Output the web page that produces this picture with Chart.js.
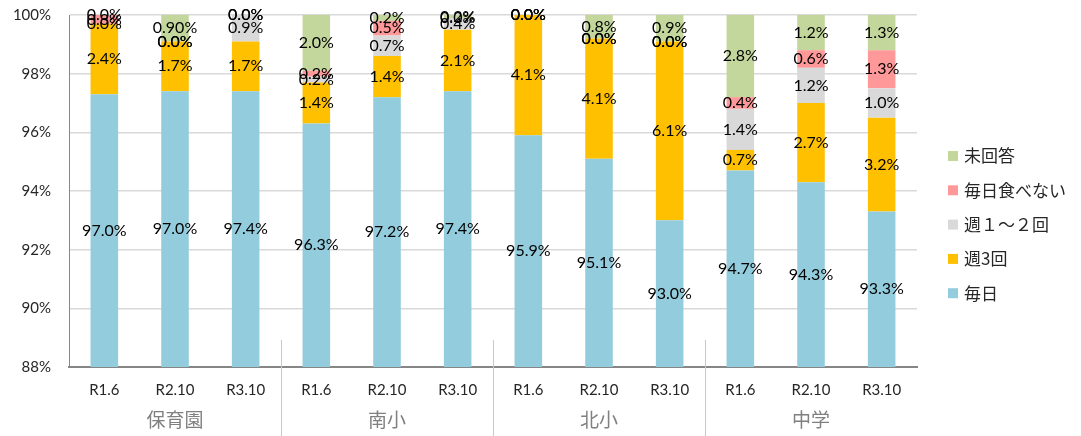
<!DOCTYPE html>
<html>
<head>
<meta charset="utf-8">
<script src="https://cdn.jsdelivr.net/npm/chart.js@4"></script>
<style>
  html, body { margin: 0; padding: 0; background: #fff; }
</style>
</head>
<body>
<canvas id="chart" width="1081" height="436"></canvas>
<script>
// categories and groups
const categories = ["R1.6", "R2.10", "R3.10", "R1.6", "R2.10", "R3.10", "R1.6", "R2.10", "R3.10", "R1.6", "R2.10", "R3.10"];
const groups = ["保育園", "南小", "北小", "中学"];

// series values (%)
const mainichi = [97.3, 97.4, 97.4, 96.3, 97.2, 97.4, 95.9, 95.1, 93.0, 94.7, 94.3, 93.3];
const shu3 = [2.4, 1.7, 1.7, 1.4, 1.4, 2.1, 4.1, 4.1, 6.1, 0.7, 2.7, 3.2];
const shu12 = [0.0, 0.0, 0.9, 0.2, 0.7, 0.4, 0.0, 0.0, 0.0, 1.4, 1.2, 1.0];
const tabenai = [0.3, 0.0, 0.0, 0.2, 0.5, 0.0, 0.0, 0.0, 0.0, 0.4, 0.6, 1.3];
const mikaitou = [0.0, 0.9, 0.0, 2.0, 0.2, 0.2, 0.0, 0.8, 0.9, 2.8, 1.2, 1.3];

// y axis ticks
const yMin = 88;
const yMax = 100;
const yStep = 2;

// labels printed differently from the plotted value in the original
const labelOverrides = { "0-0": "97.0%", "0-1": "97.0%", "4-1": "0.90%" };

const NUM_FONT = "Lato, 'Noto Sans', sans-serif";
const JP_FONT = "'Noto Sans CJK JP', 'Noto Sans', sans-serif";

// draws the value of every segment in the middle of its visible part
const segmentLabels = {
  id: "segmentLabels",
  afterDatasetsDraw(chart) {
    const ctx = chart.ctx;
    const area = chart.chartArea;
    ctx.save();
    ctx.font = "16px " + NUM_FONT;
    ctx.fillStyle = "#000";
    ctx.textAlign = "center";
    ctx.textBaseline = "middle";
    chart.data.datasets.forEach((ds, i) => {
      const meta = chart.getDatasetMeta(i);
      meta.data.forEach((bar, j) => {
        const text = labelOverrides[i + "-" + j] || ds.data[j].toFixed(1) + "%";
        const top = Math.max(Math.min(bar.y, bar.base), area.top);
        const bottom = Math.min(Math.max(bar.y, bar.base), area.bottom);
        ctx.fillText(text, bar.x, (top + bottom) / 2);
      });
    });
    ctx.restore();
  }
};

// group names and separators under the category labels
const groupAxis = {
  id: "groupAxis",
  afterDraw(chart) {
    const ctx = chart.ctx;
    const x = chart.scales.x;
    const area = chart.chartArea;
    const per = categories.length / groups.length;
    ctx.save();
    ctx.strokeStyle = "#c8c8c8";
    ctx.lineWidth = 1;
    for (let g = 1; g < groups.length; g++) {
      const px = Math.round((x.getPixelForValue(g * per - 1) + x.getPixelForValue(g * per)) / 2) + 0.5;
      ctx.beginPath();
      ctx.moveTo(px, area.bottom - 27);
      ctx.lineTo(px, chart.height);
      ctx.stroke();
    }
    ctx.font = "19px " + JP_FONT;
    ctx.fillStyle = "#808080";
    ctx.textAlign = "center";
    ctx.textBaseline = "middle";
    groups.forEach((name, g) => {
      const cx = (x.getPixelForValue(g * per) + x.getPixelForValue(g * per + per - 1)) / 2;
      ctx.fillText(name, cx, area.bottom + 53);
    });
    ctx.restore();
  }
};

// legend on the right, top series first
const sideLegend = {
  id: "sideLegend",
  afterDraw(chart) {
    const ctx = chart.ctx;
    const area = chart.chartArea;
    const items = chart.data.datasets.slice().reverse();
    const left = area.right + 31;
    ctx.save();
    ctx.font = "17px " + JP_FONT;
    ctx.textBaseline = "middle";
    ctx.textAlign = "left";
    items.forEach((ds, k) => {
      const cy = 156 + k * 34.3;
      ctx.fillStyle = ds.backgroundColor;
      ctx.fillRect(left, cy - 5, 10, 10);
      ctx.fillStyle = "#262626";
      ctx.fillText(ds.label, left + 16, cy);
    });
    ctx.restore();
  }
};

const ctx = document.getElementById("chart").getContext("2d");

new Chart(ctx, {
  type: "bar",
  data: {
    labels: categories,
    datasets: [
      { label: "毎日", data: mainichi, backgroundColor: "#93cddd" },
      { label: "週3回", data: shu3, backgroundColor: "#ffc000" },
      { label: "週１～２回", data: shu12, backgroundColor: "#d9d9d9" },
      { label: "毎日食べない", data: tabenai, backgroundColor: "#ff9999" },
      { label: "未回答", data: mikaitou, backgroundColor: "#c3d69b" }
    ]
  },
  options: {
    responsive: false,
    animation: false,
    devicePixelRatio: 1,
    layout: { padding: { top: 15, right: 164, bottom: 0, left: 0 } },
    datasets: { bar: { barPercentage: 0.39, categoryPercentage: 1 } },
    plugins: {
      legend: { display: false },
      tooltip: { enabled: false }
    },
    scales: {
      x: {
        stacked: true,
        grid: { display: false, drawTicks: false },
        border: { color: "#868686", width: 2 },
        ticks: { color: "#262626", font: { family: NUM_FONT, size: 15 }, padding: 14, autoSkip: false, maxRotation: 0 },
        afterFit(scale) { scale.height = 69; }
      },
      y: {
        stacked: true,
        min: yMin,
        max: yMax,
        grid: { color: "#d9d9d9", lineWidth: 1.5, drawTicks: false },
        border: { color: "#868686", width: 1 },
        ticks: {
          stepSize: yStep,
          color: "#262626",
          font: { family: NUM_FONT, size: 15 },
          padding: 18,
          callback: (v) => v + "%"
        },
        afterFit(scale) {
          scale.width = 69;
          scale.paddingTop = 9;
          scale.paddingBottom = 9;
        }
      }
    }
  },
  plugins: [segmentLabels, groupAxis, sideLegend]
});
</script>
</body>
</html>
